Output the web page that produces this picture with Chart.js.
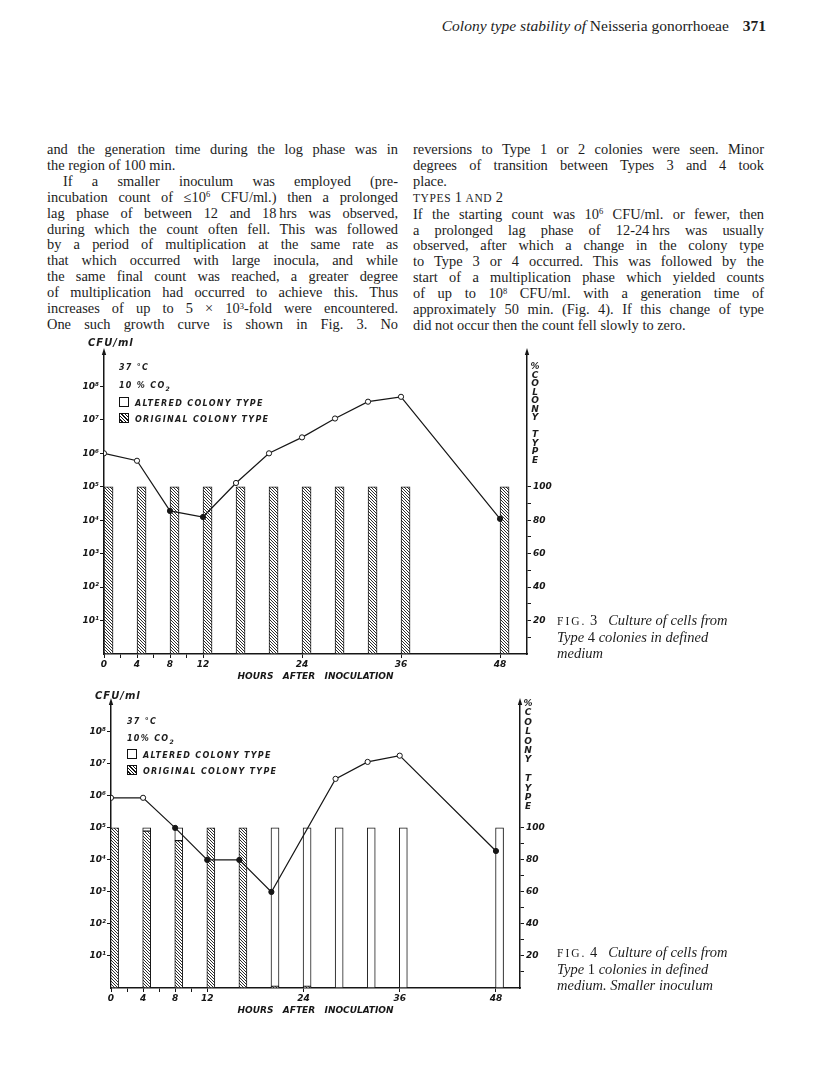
<!DOCTYPE html>
<html>
<head>
<meta charset="utf-8">
<script src="https://cdn.jsdelivr.net/npm/chart.js@4.4.0/dist/chart.umd.min.js"></script>
<style>
  body { margin: 0; background: #fff; }
  #page { position: relative; width: 816px; height: 1087px; overflow: hidden; background: #fff;
          font-family: "Liberation Serif", "DejaVu Serif", serif; color: #1c1c1c; }
  .hdr { position: absolute; top: 17px; right: 50px; font-size: 15.5px; line-height: 18px; white-space: nowrap; }
  .hdr b { margin-left: 10px; }
  .col { position: absolute; top: 142px; width: 351px; font-size: 14.4px; line-height: 15.9px; }
  .col div { text-align: justify; text-align-last: justify; }
  .col div.end { text-align-last: left; }
  .col div.ind { padding-left: 16px; }
  .col sup { font-size: 8.5px; line-height: 0; vertical-align: baseline; position: relative; top: -0.5em; }
  .sc { font-size: 11.5px; letter-spacing: 0.6px; }
  canvas { position: absolute; }
  .lab { position: absolute; font-family: "DejaVu Sans", sans-serif; font-style: italic; font-weight: bold;
         color: #1c1c1c; white-space: nowrap; }
  .unit { font-size: 10px; letter-spacing: 1px; }
  .leg { font-size: 8px; letter-spacing: 1.3px; line-height: 10px; }
  .sw { display: inline-block; width: 8px; height: 8px; border: 1px solid #111; vertical-align: -1px; margin-right: 6px; background: #fff; }
  .sw.h { background: repeating-linear-gradient(45deg, #fff 0 1.4px, #111 1.4px 2.4px); }
  .vt { font-size: 9px; text-align: center; width: 12px; white-space: pre; }
  .cap { position: absolute; left: 557px; font-size: 14.5px; line-height: 16px; white-space: nowrap; }
  .cap i { font-style: italic; }
</style>
</head>
<body>
<div id="page">
  <div class="hdr"><i>Colony type stability of</i> Neisseria gonorrhoeae <b>371</b></div>

  <div class="col" style="left:47px">
    <div>and the generation time during the log phase was in</div>
    <div class="end">the region of 100 min.</div>
    <div class="ind">If a smaller inoculum was employed (pre-</div>
    <div>incubation count of &le;10<sup>6</sup> CFU/ml.) then a prolonged</div>
    <div>lag phase of between 12 and 18&#8201;hrs was observed,</div>
    <div>during which the count often fell. This was followed</div>
    <div>by a period of multiplication at the same rate as</div>
    <div>that which occurred with large inocula, and while</div>
    <div>the same final count was reached, a greater degree</div>
    <div>of multiplication had occurred to achieve this. Thus</div>
    <div>increases of up to 5 &times; 10<sup>3</sup>-fold were encountered.</div>
    <div>One such growth curve is shown in Fig. 3. No</div>
  </div>

  <div class="col" style="left:413px">
    <div>reversions to Type 1 or 2 colonies were seen. Minor</div>
    <div>degrees of transition between Types 3 and 4 took</div>
    <div class="end">place.</div>
    <div class="end"><span class="sc">TYPES</span> 1 <span class="sc">AND</span> 2</div>
    <div>If the starting count was 10<sup>6</sup> CFU/ml. or fewer, then</div>
    <div>a prolonged lag phase of 12-24&#8201;hrs was usually</div>
    <div>observed, after which a change in the colony type</div>
    <div>to Type 3 or 4 occurred. This was followed by the</div>
    <div>start of a multiplication phase which yielded counts</div>
    <div>of up to 10<sup>8</sup> CFU/ml. with a generation time of</div>
    <div>approximately 50 min. (Fig. 4). If this change of type</div>
    <div class="end">did not occur then the count fell slowly to zero.</div>
  </div>

  <!-- figure 3 -->
  <canvas id="fig3" width="500" height="355" style="left:60px;top:335px;width:500px;height:355px"></canvas>
  <div class="lab unit" style="left:88px;top:337px">CFU/ml</div>
  <div class="lab leg" style="left:119px;top:363px">37 °C</div>
  <div class="lab leg" style="left:119px;top:381px">10 % CO<sub style="font-size:6px">2</sub></div>
  <div class="lab leg" style="left:119px;top:397px"><span class="sw"></span>ALTERED COLONY TYPE</div>
  <div class="lab leg" style="left:119px;top:413px"><span class="sw h"></span>ORIGINAL COLONY TYPE</div>
  <div class="lab vt" style="left:529px;top:362px;line-height:8.5px">%
C
O
L
O
N
Y

T
Y
P
E</div>
  <div class="cap" style="top:612px"><span class="sc" style="letter-spacing:2px">FIG.</span> 3&nbsp;&nbsp; <i>Culture of cells from</i><br><i>Type</i> 4 <i>colonies in defined</i><br><i>medium</i></div>

  <!-- figure 4 -->
  <canvas id="fig4" width="500" height="340" style="left:67px;top:685px;width:500px;height:340px"></canvas>
  <div class="lab unit" style="left:95px;top:690px">CFU/ml</div>
  <div class="lab leg" style="left:127px;top:717px">37 °C</div>
  <div class="lab leg" style="left:127px;top:734px">10% CO<sub style="font-size:6px">2</sub></div>
  <div class="lab leg" style="left:127px;top:749px"><span class="sw"></span>ALTERED COLONY TYPE</div>
  <div class="lab leg" style="left:127px;top:765px"><span class="sw h"></span>ORIGINAL COLONY TYPE</div>
  <div class="lab vt" style="left:522px;top:699px;line-height:9.4px">%
C
O
L
O
N
Y

T
Y
P
E</div>
  <div class="cap" style="top:944px"><span class="sc" style="letter-spacing:2px">FIG.</span> 4&nbsp;&nbsp; <i>Culture of cells from</i><br><i>Type</i> 1 <i>colonies in defined</i><br><i>medium. Smaller inoculum</i></div>
</div>

<script>
// sampling times of the colony type bars (hours)
const barHours = [0, 4, 8, 12, 16, 20, 24, 28, 32, 36, 48];

// Fig 3: type 4 colonies, % of each colony type
const fig3Original = [100, 100, 100, 100, 100, 100, 100, 100, 100, 100, 100];
const fig3Altered  = [0, 0, 0, 0, 0, 0, 0, 0, 0, 0, 0];
const fig3Hours  = [0, 4, 8, 12, 16, 20, 24, 28, 32, 36, 48];
const fig3Counts = [1.0e6, 6.0e5, 1.9e4, 1.25e4, 1.3e5, 1.0e6, 3.0e6, 1.1e7, 3.5e7, 4.9e7, 1.1e4];
const fig3Filled = [false, false, true, true, false, false, false, false, false, false, true];

// Fig 4: type 1 colonies, smaller inoculum
const fig4Original = [100, 98, 92, 100, 100, 1, 1, 0, 0, 0, 0];
const fig4Altered  = [0, 2, 8, 0, 0, 99, 99, 100, 100, 100, 100];
const fig4Hours  = [0, 4, 8, 12, 16, 20, 28, 32, 36, 48];
const fig4Counts = [8.7e5, 8.7e5, 1.0e5, 1.0e4, 1.0e4, 1.0e3, 3.4e6, 1.15e7, 1.8e7, 1.9e4];
const fig4Filled = [false, false, true, true, true, true, false, false, false, true];

// axis ticks
const hourTicks  = [0, 2, 4, 6, 8, 10, 12, 24, 36, 48];
const hourLabels = ['0', '', '4', '', '8', '', '12', '24', '36', '48'];
const countTicks  = [1e1, 1e2, 1e3, 1e4, 1e5, 1e6, 1e7, 1e8];
const countLabels = ['10¹', '10²', '10³', '10⁴', '10⁵', '10⁶', '10⁷', '10⁸'];
const pctTicks  = [10, 20, 30, 40, 50, 60, 70, 80, 90, 100];
const pctLabels = ['', '20', '', '40', '', '60', '', '80', '', '100'];

const INK = '#161616';
const figFont = { family: '"DejaVu Sans", sans-serif', style: 'italic', weight: 'bold', size: 9 };

function hatchPattern() {
  const c = document.createElement('canvas');
  c.width = 3; c.height = 3;
  const g = c.getContext('2d');
  g.fillStyle = '#fff';
  g.fillRect(0, 0, 3, 3);
  g.strokeStyle = INK;
  g.lineWidth = 0.9;
  g.beginPath();
  g.moveTo(-1, -1); g.lineTo(4, 4);
  g.moveTo(-1, 2); g.lineTo(1, 4);
  g.moveTo(2, -1); g.lineTo(4, 1);
  g.stroke();
  return g.createPattern(c, 'repeat');
}

const axisArrows = {
  id: 'axisArrows',
  afterDraw(chart) {
    const { ctx, chartArea: { left, right, top } } = chart;
    ctx.save();
    ctx.fillStyle = INK;
    [left, right].forEach(x => {
      ctx.beginPath();
      ctx.moveTo(x, top - 5);
      ctx.lineTo(x - 2.2, top + 2);
      ctx.lineTo(x + 2.2, top + 2);
      ctx.closePath();
      ctx.fill();
    });
    ctx.restore();
  }
};

function drawFigure(id, g, original, altered, hours, counts, filled) {
  const hatch = hatchPattern();
  const toBars = vals => barHours.map((h, i) => ({ x: h + g.barShift, y: vals[i] }));
  new Chart(document.getElementById(id), {
    data: {
      datasets: [
        {
          type: 'line', order: 0, yAxisID: 'yL',
          data: hours.map((h, i) => ({ x: h, y: counts[i] })),
          borderColor: INK, borderWidth: 1.2, tension: 0,
          pointRadius: 2.6, pointBorderWidth: 1, pointBorderColor: INK,
          pointBackgroundColor: filled.map(f => f ? INK : '#fff')
        },
        {
          type: 'bar', order: 1, yAxisID: 'yP', data: toBars(original),
          backgroundColor: hatch, borderColor: INK, borderWidth: 1, borderSkipped: false,
          barThickness: g.barW
        },
        {
          type: 'bar', order: 2, yAxisID: 'yP', data: toBars(altered),
          backgroundColor: '#fff', borderColor: INK, borderWidth: 1, borderSkipped: false,
          barThickness: g.barW
        }
      ]
    },
    options: {
      responsive: false,
      animation: false,
      events: [],
      layout: { autoPadding: false, padding: { top: g.padTop, left: 0, right: 0, bottom: 0 } },
      plugins: { legend: { display: false }, tooltip: { enabled: false } },
      scales: {
        x: {
          type: 'linear', min: 0, max: g.xMax, stacked: true, offset: false,
          afterBuildTicks: s => { s.ticks = hourTicks.map(v => ({ value: v })); },
          afterFit: s => { s.height = g.xAxisH; },
          grid: { drawOnChartArea: false, offset: false, tickLength: 4, color: INK, tickWidth: 1 },
          border: { display: true, color: INK, width: 1.5 },
          ticks: { autoSkip: false, maxRotation: 0, padding: 1, color: INK, font: figFont,
                   callback: (v, i) => hourLabels[i] },
          title: { display: true, text: 'HOURS   AFTER   INOCULATION', color: INK,
                   font: { family: figFont.family, style: 'italic', weight: 'bold', size: 9, lineHeight: 1.2 },
                   padding: { top: 0, bottom: g.titlePad } }
        },
        yL: {
          type: 'logarithmic', position: 'left', min: 1, max: g.yMax,
          afterBuildTicks: s => { s.ticks = countTicks.map(v => ({ value: v })); },
          afterFit: s => { s.width = g.leftW; },
          grid: { drawOnChartArea: false, tickLength: 4, color: INK, tickWidth: 1 },
          border: { display: true, color: INK, width: 1.5 },
          ticks: { autoSkip: false, padding: 1, color: INK, font: figFont,
                   callback: (v, i) => countLabels[i] }
        },
        yP: {
          type: 'linear', position: 'right', min: 0, max: g.pMax, stacked: true,
          afterBuildTicks: s => { s.ticks = pctTicks.map(v => ({ value: v })); },
          afterFit: s => { s.width = g.rightW; },
          grid: { drawOnChartArea: false, tickLength: 4, color: INK, tickWidth: 1 },
          border: { display: true, color: INK, width: 1.5 },
          ticks: { autoSkip: false, padding: 2, color: INK, font: figFont,
                   callback: (v, i) => pctLabels[i] }
        }
      }
    },
    plugins: [axisArrows]
  });
}

drawFigure('fig3',
  { padTop: 18, leftW: 44, rightW: 33, xAxisH: 36, titlePad: 8,
    xMax: 51.27, yMax: 1e9, pMax: 180, barW: 9, barShift: 0.55 },
  fig3Original, fig3Altered, fig3Hours, fig3Counts, fig3Filled);

drawFigure('fig4',
  { padTop: 18, leftW: 44, rightW: 47, xAxisH: 37, titlePad: 9,
    xMax: 51.0, yMax: Math.pow(10, 8.9), pMax: 178, barW: 8, barShift: 0.45 },
  fig4Original, fig4Altered, fig4Hours, fig4Counts, fig4Filled);
</script>
</body>
</html>
